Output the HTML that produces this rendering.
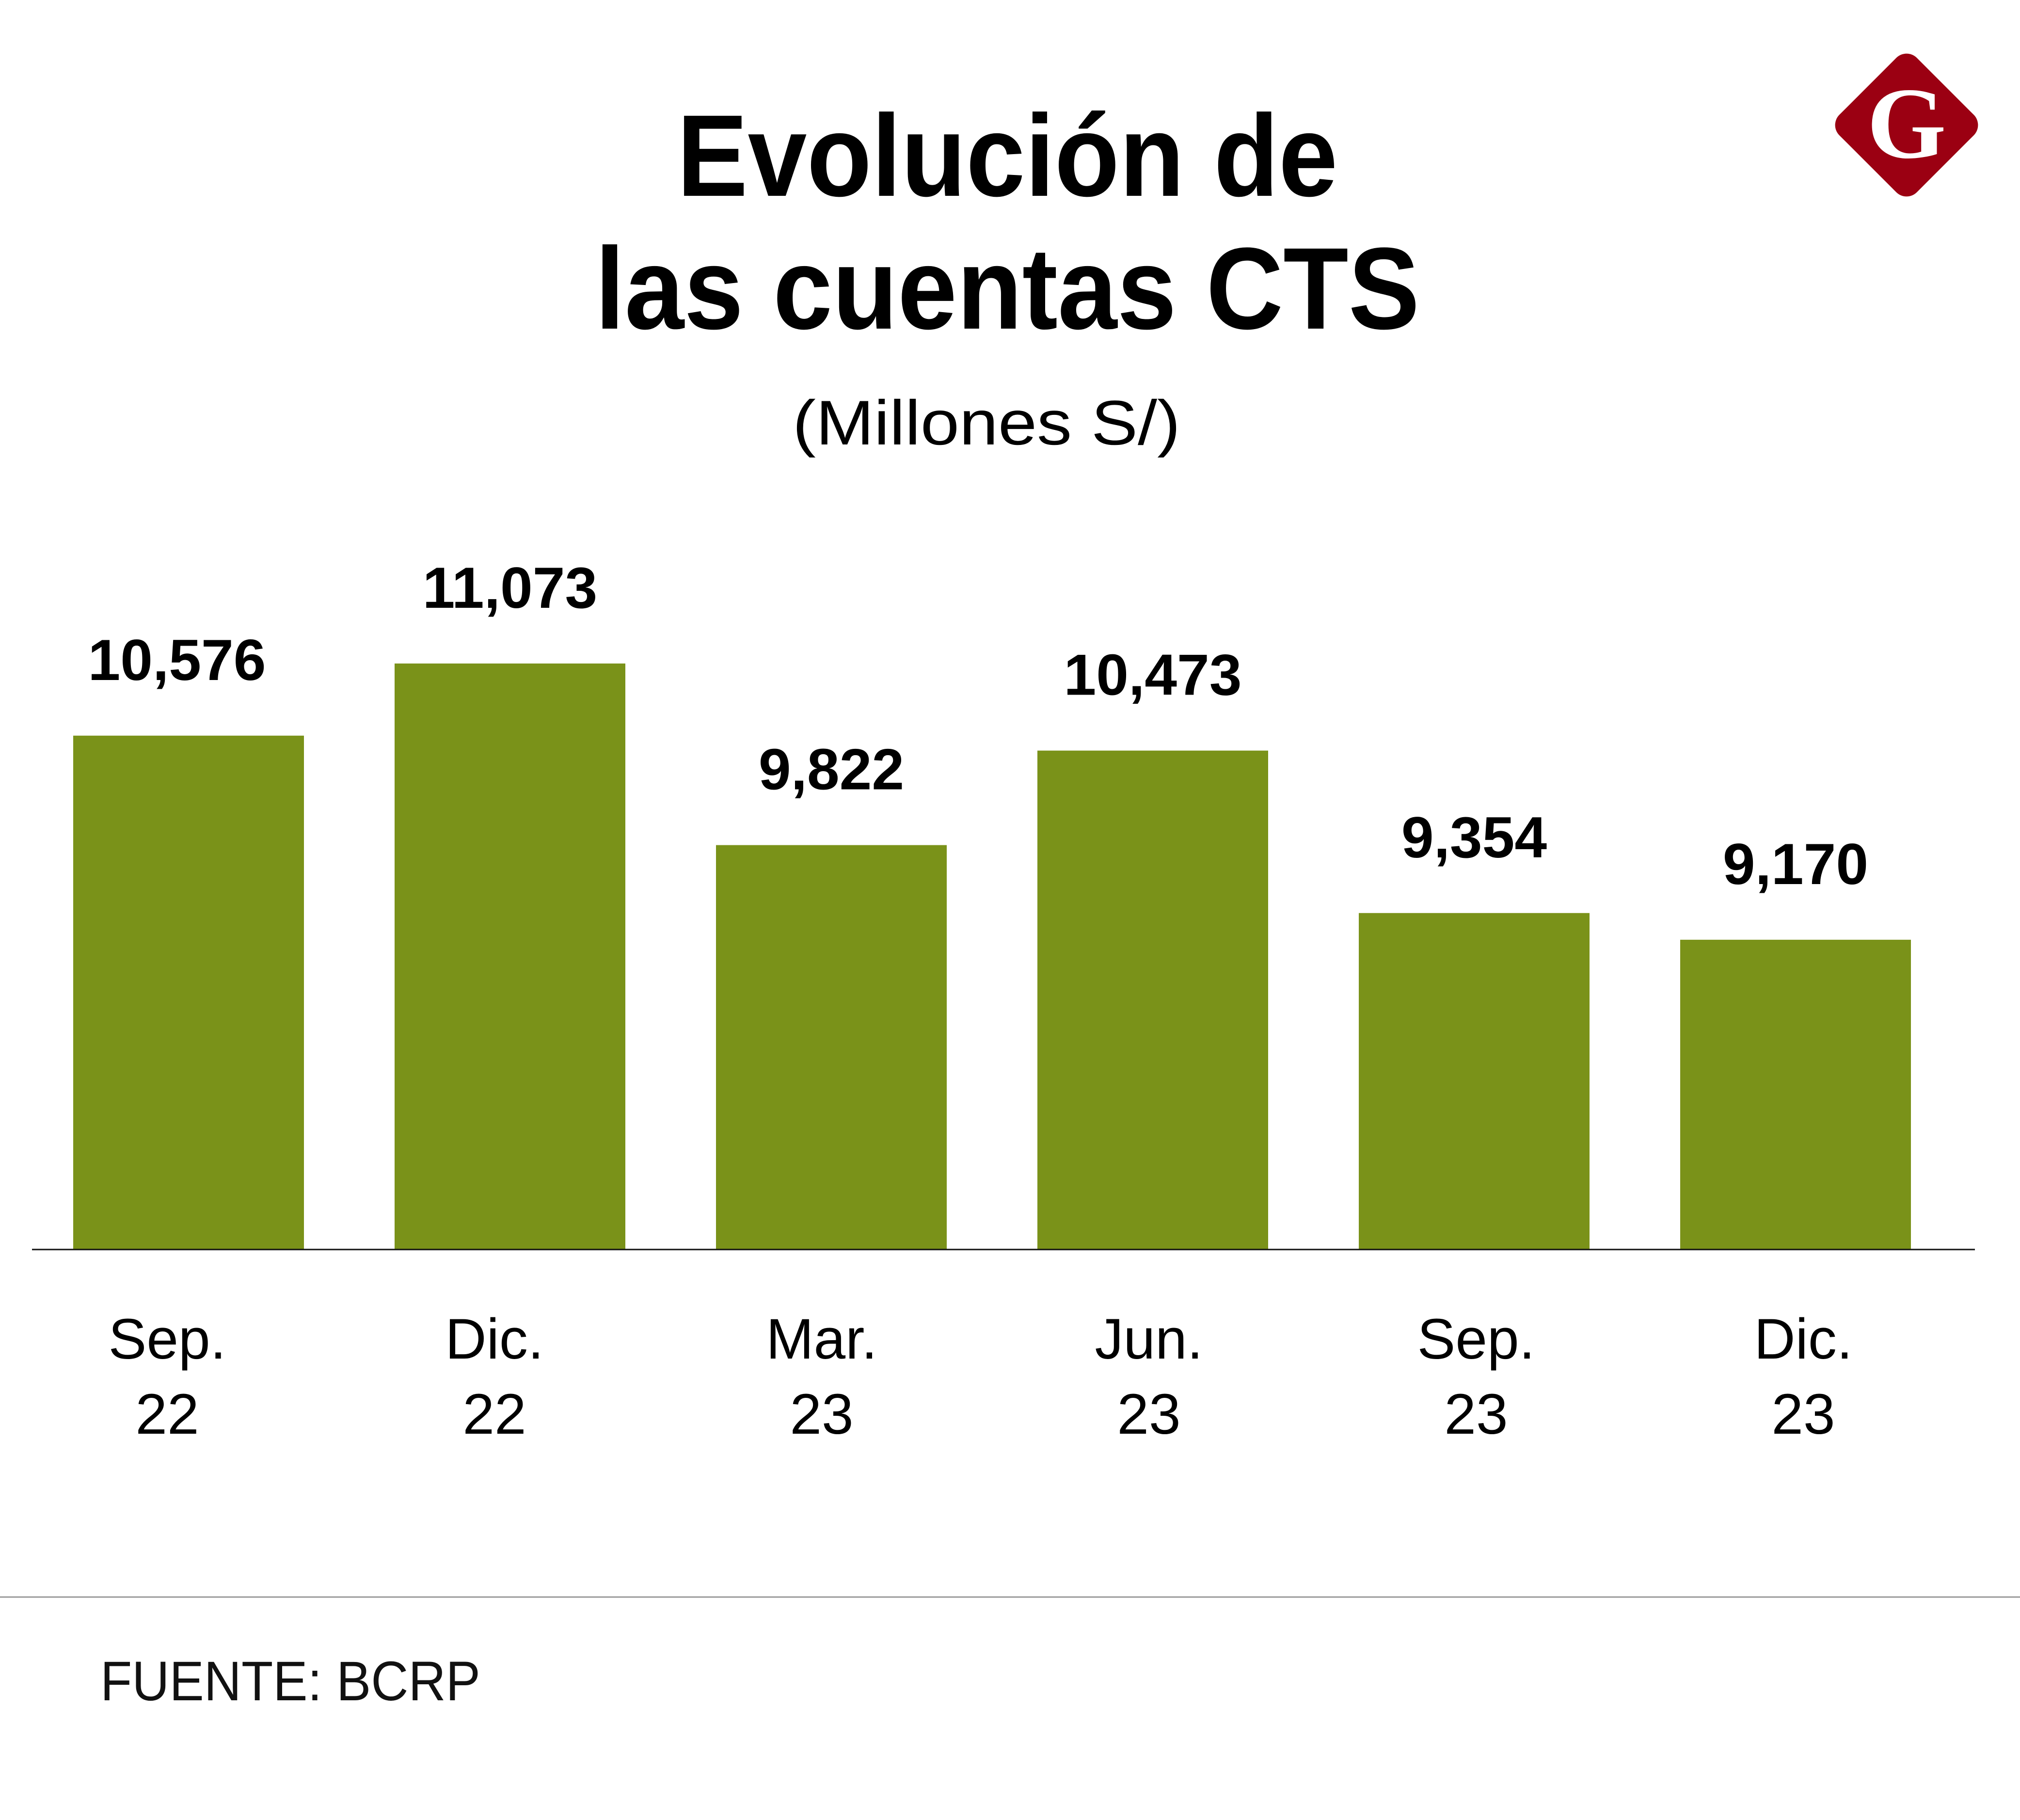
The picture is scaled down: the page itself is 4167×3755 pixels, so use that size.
<!DOCTYPE html>
<html><head><meta charset="utf-8"><style>
html,body{margin:0;padding:0;background:#fff;}
svg{display:block;font-family:"Liberation Sans",sans-serif;}
</style></head><body>
<svg id="chart" width="4167" height="3755" viewBox="0 0 4167 3755" xmlns="http://www.w3.org/2000/svg">
<rect width="4167" height="3755" fill="#fff"/>
<text x="2078" y="404" text-anchor="middle" font-size="240" font-weight="bold" textLength="1363" lengthAdjust="spacingAndGlyphs">Evolución de</text>
<text x="2078" y="678" text-anchor="middle" font-size="240" font-weight="bold" textLength="1701" lengthAdjust="spacingAndGlyphs">las cuentas CTS</text>
<text x="2035" y="917" text-anchor="middle" font-size="130" textLength="800" lengthAdjust="spacingAndGlyphs">(Millones S/)</text>
<g>
<rect x="3820" y="145" width="226" height="226" rx="30" fill="#9b0012" transform="rotate(45 3933 258)"/>
<text x="3933" y="325" text-anchor="middle" font-size="210" font-weight="bold" font-family="Liberation Serif,serif" fill="#fff">G</text>
</g>
<g id="bars"></g>
<line x1="66" y1="2578" x2="4074" y2="2578" stroke="#111" stroke-width="3"/>
<line x1="0" y1="3295" x2="4167" y2="3295" stroke="#999" stroke-width="3"/>
<text x="207" y="3508" font-size="115" fill="#111" textLength="784" lengthAdjust="spacingAndGlyphs">FUENTE: BCRP</text>
</svg>
<script>
const months = ["Sep.","Dic.","Mar.","Jun.","Sep.","Dic."];
const years = ["22","22","23","23","23","23"];
const values = [10576, 11073, 9822, 10473, 9354, 9170];
const valueLabels = ["10,576","11,073","9,822","10,473","9,354","9,170"];

const baseY = 2578, yMin = 7036, pxPerUnit = 0.2995;
const x0 = 151, step = 663, barW = 476;
const tickX0 = 345, tickStep = 675;
function yScale(v){ return baseY - (v - yMin) * pxPerUnit; }
function xScale(i){ return x0 + i * step; }
function tickX(i){ return tickX0 + i * tickStep; }
const NS = "http://www.w3.org/2000/svg";
const g = document.getElementById("bars");
values.forEach((v,i)=>{
  const x = xScale(i), y = yScale(v);
  const r = document.createElementNS(NS,"rect");
  r.setAttribute("x",x); r.setAttribute("y",y);
  r.setAttribute("width",barW); r.setAttribute("height",baseY - y);
  r.setAttribute("fill","#7a9219");
  
  
  g.appendChild(r);
  const cx = x + barW/2;
  const t = document.createElementNS(NS,"text");
  t.setAttribute("x", i === 0 ? cx - 24 : cx); t.setAttribute("y",y - 115);
  t.setAttribute("text-anchor","middle"); t.setAttribute("font-size","120");
  t.setAttribute("font-weight","bold");
  t.textContent = valueLabels[i];
  
  
  g.appendChild(t);
  const m = document.createElementNS(NS,"text");
  m.setAttribute("x",tickX(i)); m.setAttribute("y",2803);
  m.setAttribute("text-anchor","middle"); m.setAttribute("font-size","118");
  m.textContent = months[i];
  
  
  g.appendChild(m);
  const yr = document.createElementNS(NS,"text");
  yr.setAttribute("x",tickX(i)); yr.setAttribute("y",2958);
  yr.setAttribute("text-anchor","middle"); yr.setAttribute("font-size","118");
  yr.textContent = years[i];
  
  
  g.appendChild(yr);
});
</script>
</body></html>
